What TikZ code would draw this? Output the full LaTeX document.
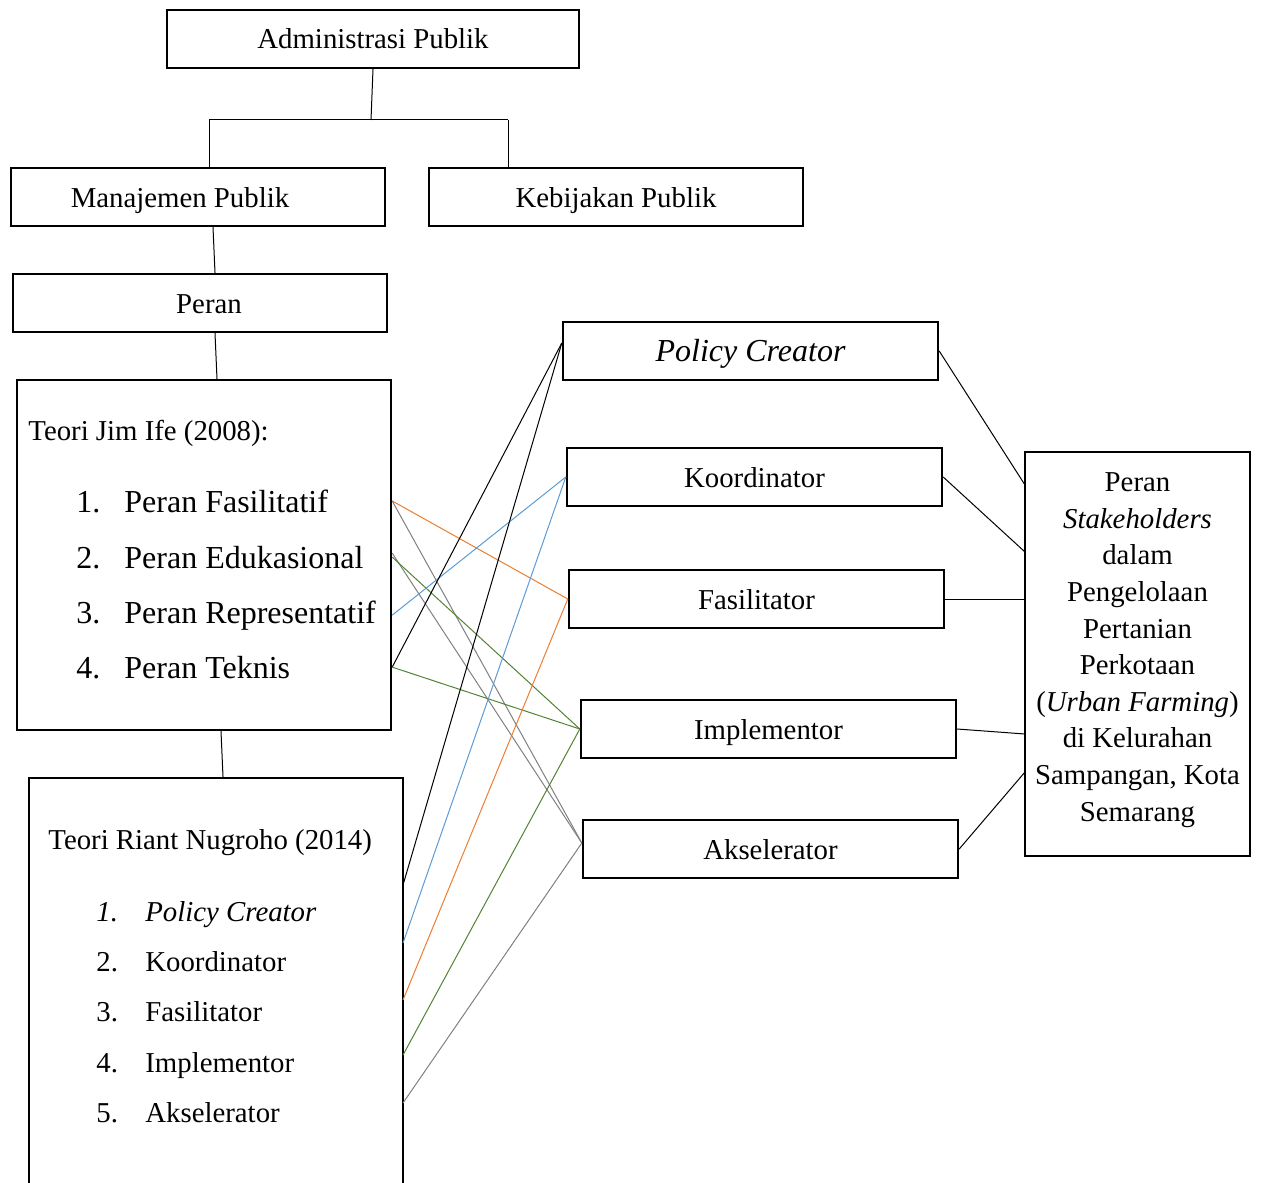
\documentclass[tikz,border=0pt]{standalone}
\usepackage{fontspec}
\setmainfont{Liberation Serif}
\usetikzlibrary{positioning}
\definecolor{lnorange}{RGB}{237,125,49}
\definecolor{lnblue}{RGB}{91,155,213}
\definecolor{lngreen}{RGB}{84,130,53}
\definecolor{lngray}{RGB}{128,128,128}
\newcommand{\fsnorm}{\fontsize{14.4}{18.3}\selectfont}
\newcommand{\fsbig}{\fontsize{16}{19.2}\selectfont}
\tikzstyle{frame} = [rectangle, draw=black, line width=1.2pt, inner sep=0pt, minimum width=187pt, font=\fsnorm]
\tikzstyle{box} = [frame, minimum height=29pt, text height=10pt, text depth=0pt, text centered]
\tikzstyle{item} = [anchor=base west, inner sep=0pt, font=\fsnorm]
\tikzstyle{link} = [line width=0.5pt]

\begin{document}
\begin{tikzpicture}[x=0.5pt, y=-0.5pt]
\useasboundingbox (0,0) rectangle (1261,1182);
\clip (0,0) rectangle (1261,1182);

% Top tree
\node[box, minimum width=206pt] (admin) at (373,39) {Administrasi Publik};
\node[box, text depth=-2pt] (manaj) at (198,197) {Manajemen Publik\hspace*{18pt}};
\node[box] (kebij) at (616,197) {Kebijakan Publik};
\node[box] (peran) at (200,303) {\hspace*{9pt}Peran};

\coordinate (split) at (371,120);
\coordinate (splitl) at (209,120);
\coordinate (splitr) at (508,120);
\draw[link] (admin.south) -- (split);
\draw[link] (splitl) -- (splitr);
\draw[link] (splitl) -- (manaj.north -| splitl);
\draw[link] (splitr) -- (kebij.north -| splitr);

% Theory boxes
\node[frame, minimum height=175pt] (ife) at (204,555) {};
\node[frame, minimum height=212pt] (nug) at (216,990) {};

\draw[link] ([xshift=7.5pt]manaj.south) -- ([xshift=7.5pt]peran.north);
\draw[link] ([xshift=7.5pt]peran.south) -- ([xshift=6.5pt]ife.north);
\draw[link] ([xshift=8.5pt]ife.south) -- ([xshift=3.5pt]nug.north);

\node[item] (ifetitle) at (28,440) {Teori Jim Ife (2008):};
\foreach \n/\lbl/\yy in {1/Fasilitatif/512, 2/Edukasional/568, 3/Representatif/623, 4/Teknis/678}
  \node[item, font=\fsbig] (ife\n) at (76,\yy) {\makebox[24pt][l]{\n.}Peran \lbl};

\node[item] (nugtitle) at (48,849) {Teori Riant Nugroho (2014)};
\node[item, font=\fsnorm\itshape] (nug1) at (96,921) {\makebox[24.5pt][l]{1.}Policy Creator};
\foreach \n/\lbl/\yy in {2/Koordinator/971, 3/Fasilitator/1021, 4/Implementor/1072, 5/Akselerator/1122}
  \node[item] (nug\n) at (96,\yy) {\makebox[24.5pt][l]{\n.}\lbl};

% Roles
\node[box, font=\fsbig\itshape, minimum width=187.5pt] (pc) at (750.5,351) {Policy Creator};
\node[box, minimum width=187.5pt] (koor) at (754.5,477) {Koordinator};
\node[box, minimum width=187.5pt] (fasil) at (756.5,599) {Fasilitator};
\node[box, minimum width=187.5pt] (impl) at (768.5,729) {Implementor};
\node[box, minimum width=187.5pt] (aksel) at (770.5,849) {Akselerator};

% Result
\node[frame, minimum width=112.5pt, minimum height=202pt] (tgt) at (1137.5,654) {};
\node[font=\fsnorm, align=center, inner sep=0pt] (tgttext) at (1137.5,650)
  {Peran\\ \textit{Stakeholders}\\ dalam\\ Pengelolaan\\ Pertanian\\ Perkotaan\\ (\textit{Urban Farming})\\ di Kelurahan\\ Sampangan, Kota\\ Semarang};

% Jim Ife links
\draw[link, lnorange] (ife.east |- ife1) -- (fasil.west);
\draw[link, lngray] (ife.east |- ife1) -- ([yshift=3pt]aksel.west);
\draw[link, lngray] ([yshift=2pt]ife.east |- ife2) -- ([yshift=3pt]aksel.west);
\draw[link, lngreen] (ife.east |- ife2) -- (impl.west);
\draw[link, lnblue] (ife.east |- ife3) -- (koor.west);
\draw[link] (ife.east |- ife4) -- ([yshift=4pt]pc.west);
\draw[link, lngreen] (ife.east |- ife4) -- (impl.west);

% Nugroho links
\foreach \n/\yy in {1/885, 2/943, 3/1000, 4/1055, 5/1103}
  \coordinate (nugout\n) at (403,\yy);
\draw[link] (nugout1) -- ([yshift=4pt]pc.west);
\draw[link, lnblue] (nugout2) -- (koor.west);
\draw[link, lnorange] (nugout3) -- (fasil.west);
\draw[link, lngreen] (nugout4) -- (impl.west);
\draw[link, lngray] (nugout5) -- ([yshift=3pt]aksel.west);

% Links to result
\foreach \n/\yy in {1/485, 2/552, 3/599, 4/734, 5/772}
  \coordinate (tgtin\n) at (1025,\yy);
\draw[link] (pc.east) -- (tgtin1);
\draw[link] (koor.east) -- (tgtin2);
\draw[link] (fasil.east) -- (tgtin3);
\draw[link] (impl.east) -- (tgtin4);
\draw[link] (aksel.east) -- (tgtin5);
\end{tikzpicture}
\end{document}
